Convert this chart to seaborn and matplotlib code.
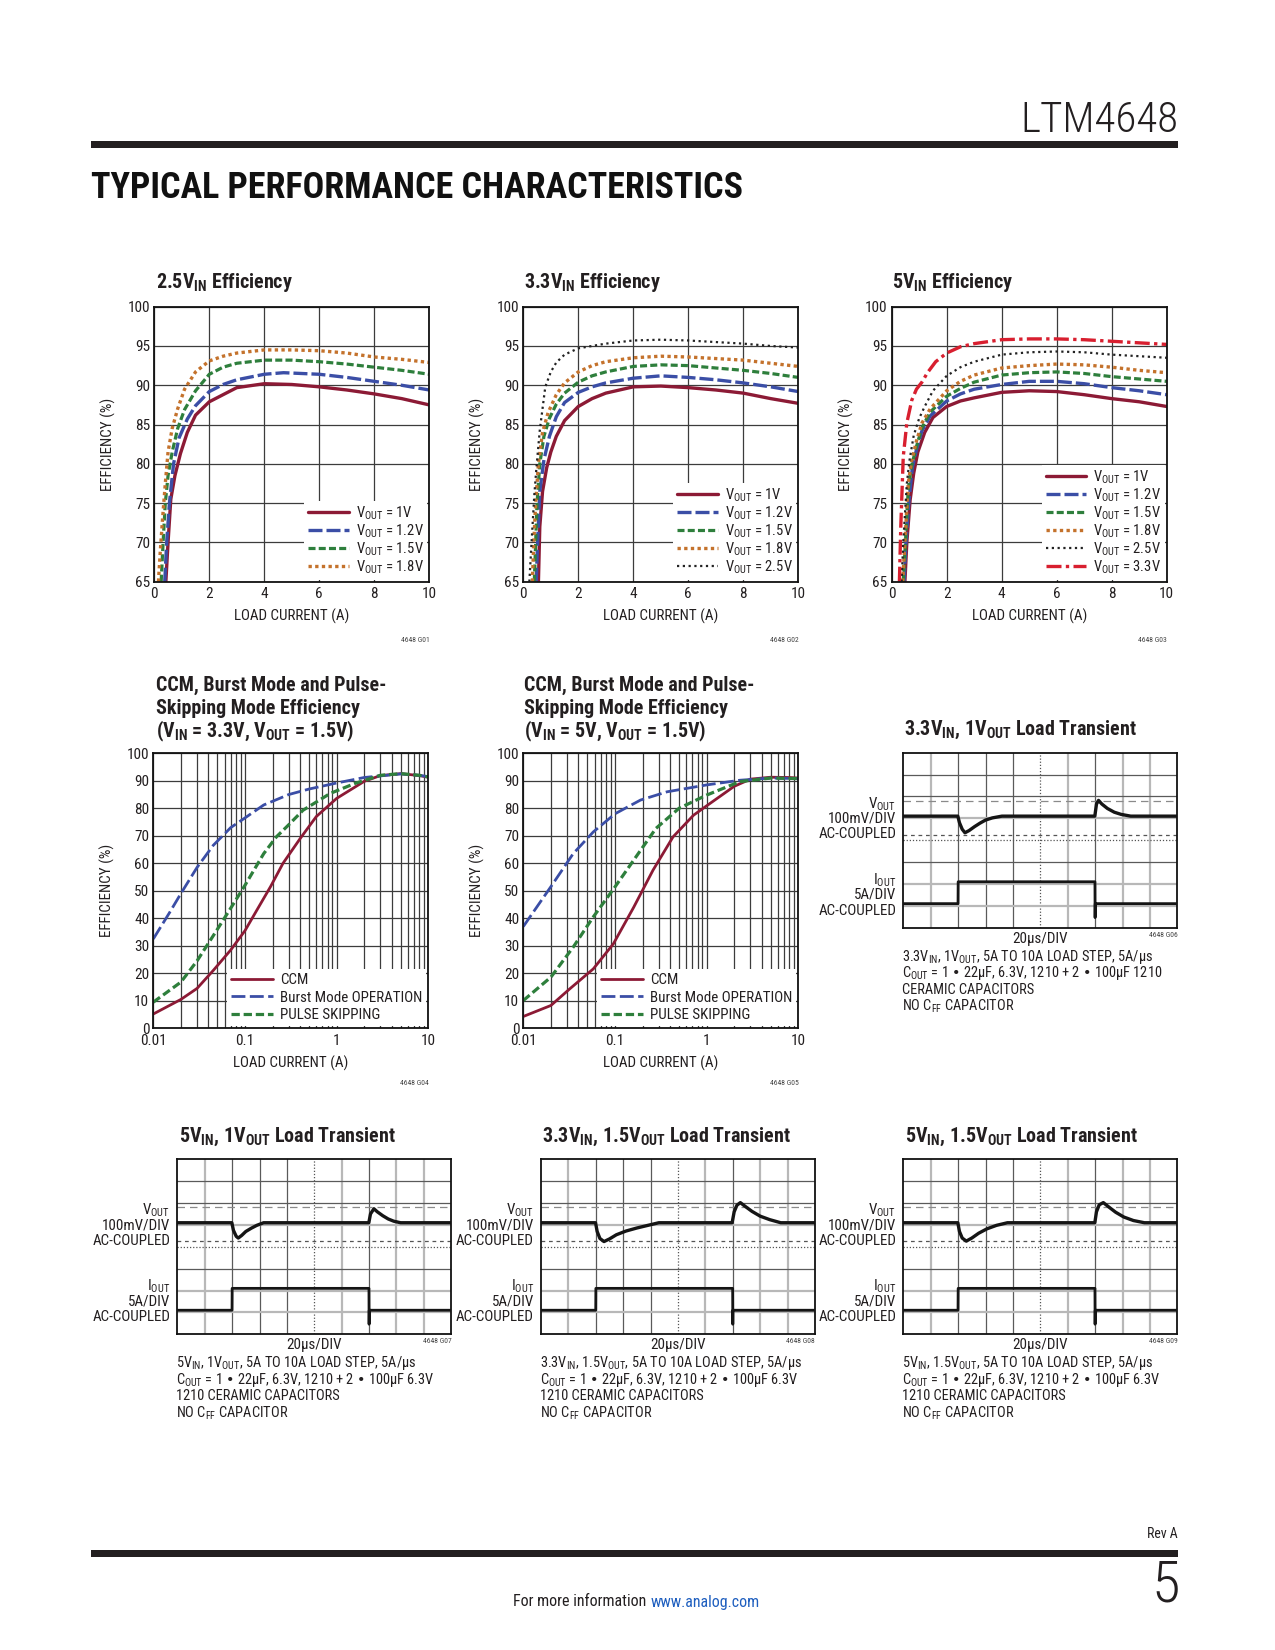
import matplotlib
matplotlib.use("Agg")
import matplotlib.pyplot as plt
import seaborn as sns
from matplotlib import font_manager
from matplotlib.ticker import LogLocator, NullFormatter

# ---------------- data: efficiency vs load current ----------------
# 2.5VIN
e1_i_10 = [0.42, 0.5, 0.6, 0.75, 0.95, 1.2, 1.5, 2.0, 2.5, 3.0, 4.0, 5.0, 6.0, 7.0, 8.0, 9.0, 10.0]
e1_e_10 = [65, 70, 75.5, 78.5, 81.3, 84, 86.2, 87.9, 88.8, 89.7, 90.2, 90.1, 89.8, 89.4, 88.9, 88.3, 87.5]
e1_i_12 = [0.38, 0.45, 0.55, 0.7, 0.9, 1.2, 1.5, 2.0, 2.5, 3.0, 4.0, 4.7, 6.0, 7.0, 8.0, 9.0, 10.0]
e1_e_12 = [65, 70, 75, 80, 83.3, 85.7, 87.4, 89.2, 90.1, 90.7, 91.4, 91.6, 91.4, 91.0, 90.5, 90.0, 89.4]
e1_i_15 = [0.25, 0.32, 0.4, 0.5, 0.65, 0.85, 1.1, 1.5, 2.0, 2.5, 3.0, 4.0, 5.0, 6.0, 7.0, 8.0, 9.0, 10.0]
e1_e_15 = [65, 70, 75, 78.5, 81.5, 84.5, 86.9, 89.3, 91.4, 92.3, 92.8, 93.2, 93.2, 93.0, 92.7, 92.3, 91.9, 91.4]
e1_i_18 = [0.15, 0.22, 0.3, 0.4, 0.5, 0.65, 0.85, 1.1, 1.5, 2.0, 2.5, 3.0, 4.0, 5.0, 6.0, 7.0, 8.0, 9.0, 10.0]
e1_e_18 = [65, 69, 73, 77.5, 81.5, 84.5, 87, 89.5, 91.7, 93.1, 93.7, 94.1, 94.5, 94.5, 94.4, 94.1, 93.6, 93.3, 92.9]

# 3.3VIN
e2_i_10 = [0.55, 0.6, 0.7, 0.85, 1.0, 1.2, 1.5, 2.0, 2.5, 3.0, 4.0, 5.0, 6.0, 7.0, 8.0, 9.0, 10.0]
e2_e_10 = [65, 72, 76.5, 79.5, 81.5, 83.5, 85.5, 87.3, 88.3, 89.0, 89.8, 89.9, 89.7, 89.4, 89.0, 88.3, 87.7]
e2_i_12 = [0.47, 0.52, 0.6, 0.75, 0.95, 1.2, 1.5, 2.0, 2.5, 3.0, 4.0, 5.0, 6.0, 7.0, 8.0, 9.0, 10.0]
e2_e_12 = [65, 70, 76.5, 80.5, 83.5, 86, 87.8, 89.1, 89.8, 90.3, 90.9, 91.2, 91.0, 90.7, 90.3, 89.8, 89.2]
e2_i_15 = [0.4, 0.45, 0.5, 0.6, 0.75, 0.95, 1.2, 1.5, 2.0, 2.5, 3.0, 4.0, 5.0, 6.0, 7.0, 8.0, 9.0, 10.0]
e2_e_15 = [65, 70, 75, 80, 83.5, 85.8, 87.6, 89, 90.4, 91.2, 91.7, 92.4, 92.6, 92.5, 92.2, 91.9, 91.5, 91.0]
e2_i_18 = [0.33, 0.38, 0.45, 0.55, 0.7, 0.9, 1.2, 1.5, 2.0, 2.5, 3.0, 4.0, 5.0, 6.0, 7.0, 8.0, 9.0, 10.0]
e2_e_18 = [65, 70, 75, 80, 84, 86.5, 88.8, 90.3, 91.7, 92.5, 93.0, 93.5, 93.7, 93.6, 93.4, 93.2, 92.8, 92.4]
e2_i_25 = [0.22, 0.3, 0.4, 0.48, 0.6, 0.8, 1.0, 1.2, 1.5, 2.0, 2.5, 3.0, 4.0, 5.0, 6.0, 7.0, 8.0, 9.0, 10.0]
e2_e_25 = [65, 70, 76, 79.6, 84.3, 89.8, 91.7, 92.9, 93.9, 94.7, 95.0, 95.3, 95.7, 95.8, 95.7, 95.5, 95.3, 95.0, 94.8]

# 5VIN
e3_i_10 = [0.48, 0.55, 0.67, 0.8, 0.95, 1.2, 1.5, 2.0, 2.5, 3.0, 4.0, 5.0, 6.0, 7.0, 8.0, 9.0, 10.0]
e3_e_10 = [65, 70, 75.4, 78.8, 81.5, 84, 85.9, 87.3, 88.0, 88.4, 89.1, 89.3, 89.2, 88.8, 88.3, 87.9, 87.3]
e3_i_12 = [0.45, 0.52, 0.63, 0.75, 0.9, 1.1, 1.4, 2.0, 2.5, 3.0, 4.0, 5.0, 6.0, 7.0, 8.0, 9.0, 10.0]
e3_e_12 = [65, 70, 75.4, 79.5, 81.8, 84.2, 86.1, 88.0, 88.9, 89.5, 90.1, 90.5, 90.5, 90.2, 89.7, 89.3, 88.8]
e3_i_15 = [0.42, 0.5, 0.6, 0.72, 0.9, 1.1, 1.4, 2.0, 2.5, 3.0, 4.0, 5.0, 6.0, 7.0, 8.0, 9.0, 10.0]
e3_e_15 = [65, 70, 76.7, 79.7, 82.2, 84.6, 86.6, 88.6, 89.6, 90.4, 91.3, 91.6, 91.7, 91.5, 91.1, 90.8, 90.5]
e3_i_18 = [0.4, 0.48, 0.6, 0.72, 0.9, 1.1, 1.4, 2.0, 2.5, 3.0, 4.0, 5.0, 6.0, 7.0, 8.0, 9.0, 10.0]
e3_e_18 = [65, 70, 77.5, 80.3, 82.9, 85.2, 87.0, 89.3, 90.5, 91.3, 92.2, 92.5, 92.7, 92.6, 92.3, 91.9, 91.6]
e3_i_25 = [0.36, 0.42, 0.55, 0.65, 0.8, 1.0, 1.2, 1.5, 2.0, 2.5, 3.0, 4.0, 5.0, 6.0, 7.0, 8.0, 9.0, 10.0]
e3_e_25 = [65, 70, 77.5, 80.5, 83.6, 85.8, 87.3, 89.3, 91.2, 92.3, 93.0, 93.9, 94.2, 94.3, 94.2, 93.9, 93.7, 93.5]
e3_i_33 = [0.28, 0.33, 0.42, 0.55, 0.73, 0.9, 1.1, 1.3, 1.6, 2.0, 2.5, 3.0, 4.0, 5.0, 6.0, 7.0, 8.0, 9.0, 10.0]
e3_e_33 = [65, 72, 80.9, 85.2, 88.1, 89.5, 90.4, 91.6, 93.0, 94.1, 94.9, 95.3, 95.8, 95.9, 95.9, 95.8, 95.6, 95.4, 95.2]

# CCM / Burst / Pulse skipping, VIN = 3.3V
m1_i_ccm = [0.01, 0.02, 0.03, 0.045, 0.07, 0.1, 0.135, 0.19, 0.26, 0.4, 0.6, 1.0, 2.0, 3.0, 5.0, 8.0, 10.0]
m1_e_ccm = [5.2, 10.5, 14.5, 21, 28.5, 35.5, 43, 51.5, 60, 69, 77, 83.6, 89.8, 91.9, 92.6, 91.9, 91.3]
m1_i_bst = [0.01, 0.015, 0.02, 0.03, 0.045, 0.07, 0.1, 0.16, 0.3, 0.5, 1.0, 2.0, 5.0, 8.0, 10.0]
m1_e_bst = [32.5, 42, 49, 58.5, 66.5, 73, 76.5, 81.2, 85, 87, 89.2, 91.2, 92.5, 92, 91.5]
m1_i_psk = [0.01, 0.02, 0.03, 0.05, 0.075, 0.1, 0.16, 0.22, 0.3, 0.43, 0.85, 1.6, 3.0, 5.0, 8.0, 10.0]
m1_e_psk = [9.5, 16.8, 24.5, 36, 45.3, 52, 63.5, 69.6, 74, 79.3, 85.4, 89.1, 92, 92.6, 92, 91.4]

# CCM / Burst / Pulse skipping, VIN = 5V
m2_i_ccm = [0.01, 0.02, 0.032, 0.058, 0.096, 0.16, 0.26, 0.43, 0.72, 1.0, 2.0, 3.0, 5.0, 8.0, 10.0]
m2_e_ccm = [4.3, 8.3, 14.3, 21.6, 30.7, 44, 57.5, 69.6, 77.5, 80.9, 88, 90.6, 91.3, 91.2, 91]
m2_i_bst = [0.01, 0.02, 0.035, 0.058, 0.1, 0.19, 0.37, 1.0, 2.3, 5.0, 10.0]
m2_e_bst = [37, 51.5, 63.5, 71.4, 78, 83, 86, 88.5, 90.2, 91, 90.8]
m2_i_psk = [0.01, 0.02, 0.035, 0.058, 0.1, 0.17, 0.28, 0.5, 1.0, 2.3, 5.0, 10.0]
m2_e_psk = [10.1, 18.6, 29.5, 40.5, 51.4, 62.4, 72.7, 80, 84.8, 89.7, 91, 90.8]

# ---------------- data: load transients (time us, VOUT mV ac, IOUT A) ----------------
iout_t = [0, 39.95, 40.05, 139.9, 140.0, 140.1, 200]
iout_a = [5, 5, 10, 10, 1.8, 5, 5]

tr6_t = [0, 39.8, 41, 43, 45, 48, 52, 56, 60, 65, 72, 139.8, 141, 142.5, 145, 149, 154, 159, 166, 200]
tr6_v = [0, 0, -30, -60, -76, -66, -48, -32, -18, -8, 0, 0, 55, 72, 55, 35, 18, 8, 0, 0]
tr7_t = [0, 39.8, 41, 43, 44.5, 47, 50, 54, 58, 63, 139.8, 141, 143.5, 146, 150, 154, 158, 163, 200]
tr7_v = [0, 0, -35, -62, -70, -58, -40, -25, -12, 0, 0, 40, 64, 50, 32, 17, 7, 0, 0]
tr8_t = [0, 39.8, 41, 43, 46, 50, 55, 62, 70, 78, 86, 139.5, 141, 143, 145.5, 149, 154, 160, 167, 175, 200]
tr8_v = [0, 0, -40, -72, -86, -74, -55, -38, -24, -12, 0, 0, 50, 80, 92, 75, 52, 30, 14, 0, 0]
tr9_t = [0, 39.8, 41, 43, 46, 50, 55, 61, 68, 76, 139.8, 141, 143, 146, 150, 155, 161, 168, 176, 200]
tr9_v = [0, 0, -40, -70, -84, -70, -48, -28, -12, 0, 0, 50, 82, 92, 72, 48, 26, 10, 0, 0]

# ---------------- style ----------------
sns.set_theme(style="white")
names = {f.name for f in font_manager.fontManager.ttflist}
NARROW = next(n for n in ["Liberation Sans Narrow", "Roboto Condensed", "Roboto", "DejaVu Sans"] if n in names)
plt.rcParams["font.family"] = [NARROW, "DejaVu Sans"]
plt.rcParams["axes.linewidth"] = 1.3
plt.rcParams["axes.edgecolor"] = "#111111"

C_RED = "#8c1a35"
C_BLUE = "#3b4ea6"
C_GRN = "#2e7f3c"
C_ORG = "#c4722c"
C_BLK = "#222222"
C_RED2 = "#d81f2f"
TXT = "#231f20"

ST_10 = (C_RED, "-", 2.4)
ST_12 = (C_BLUE, (0, (4.2, 1.2)), 2.4)
ST_15 = (C_GRN, (0, (2.2, 1.0)), 2.3)
ST_18 = (C_ORG, (0, (1.0, 1.0)), 2.4)
ST_25 = (C_BLK, (0, (1.0, 1.6)), 1.6)
ST_33 = (C_RED2, (0, (4.5, 1.3, 1.0, 1.3)), 2.4)

W, H = 1275, 1650
fig = plt.figure(figsize=(W / 100, H / 100), dpi=100)


def px_axes(left, top, width, height):
    return fig.add_axes([left / W, 1 - (top + height) / H, width / W, height / H])


def ftext(x, y, s, **kw):
    kw.setdefault("color", TXT)
    return fig.text(x / W, 1 - y / H, s, **kw)


def vout(v):
    return "V$_{\\mathregular{OUT}}$ = " + v


def eff_chart(left, top, series, log=False, code=""):
    ax = px_axes(left, top, 275, 275)
    handles, labels = [], []
    for label, xs, ys, st in series:
        color, ls, lw = st
        sns.lineplot(x=xs, y=ys, ax=ax, color=color, linestyle=ls, linewidth=lw,
                     sort=False, legend=False)
        handles.append(ax.lines[-1])
        labels.append(label)
    if log:
        ax.set_xscale("log")
        ax.set_xlim(0.01, 10)
        ax.set_xticks([0.01, 0.1, 1, 10])
        ax.set_xticklabels(["0.01", "0.1", "1", "10"])
        ax.xaxis.set_minor_locator(LogLocator(subs=range(2, 10)))
        ax.xaxis.set_minor_formatter(NullFormatter())
        ax.set_ylim(0, 100)
        ax.set_yticks(range(0, 101, 10))
    else:
        ax.set_xlim(0, 10)
        ax.set_xticks(range(0, 11, 2))
        ax.set_ylim(65, 100)
        ax.set_yticks(range(65, 101, 5))
    ax.grid(True, which="both", color="#3c3c3c", linewidth=0.9)
    ax.set_axisbelow(True)
    ax.tick_params(which="both", length=0, labelsize=11, colors=TXT)
    ax.tick_params(axis="x", pad=4)
    ax.tick_params(axis="y", pad=3)
    ax.set_xlabel("LOAD CURRENT (A)", fontsize=10.8, color=TXT)
    ax.set_ylabel("EFFICIENCY (%)", fontsize=10.8, color=TXT)
    ax.xaxis.set_label_coords(0.5, -27 / 275)
    ax.yaxis.set_label_coords(-38 / 275, 0.5)
    leg = ax.legend(handles, labels, loc="lower right", fontsize=(10.8 if log else 10.5),
                    handlelength=2.8, labelspacing=(0.25 if log else 0.02), borderpad=0.25,
                    borderaxespad=0.15, handletextpad=0.45, frameon=True, fancybox=False,
                    framealpha=1)
    leg.get_frame().set_edgecolor("white")
    leg.get_frame().set_linewidth(0)
    for t in leg.get_texts():
        t.set_color(TXT)
    ftext(left + 275, top + 275 + (58 if not log else 55), code, fontsize=5.5,
          ha="right", va="center", color="#444444")
    return ax


def scope(left, top, tv, vv, notes, code):
    ax = px_axes(left, top, 274, 175)
    ax.set_xlim(0, 200)
    ax.set_ylim(-510, 290)
    ax.set_xticks([])
    ax.set_yticks([])
    gray_x = [1, 6, 8, 9]
    for k in range(1, 10):
        if k == 5:
            ax.axvline(20 * k, color="#555555", lw=0.9, ls=(0, (1, 1.5)))
        elif k in gray_x:
            ax.axvline(20 * k, color="#b8b8b8", lw=1.6)
        else:
            ax.axvline(20 * k, color="#5a5a5a", lw=0.9)
    gray_y = [1, 2, 5]
    for k in range(1, 8):
        y = -510 + 100 * k
        if k == 4:
            ax.axhline(y, color="#555555", lw=0.9, ls=(0, (1, 1.5)))
        elif k in gray_y:
            ax.axhline(y, color="#b8b8b8", lw=1.6)
        else:
            ax.axhline(y, color="#5a5a5a", lw=0.9)
    ax.axhline(70, color="#8a8a8a", lw=0.9, ls=(0, (6, 4)))
    ax.axhline(-85, color="#555555", lw=0.9, ls=(0, (3, 3)))
    sns.lineplot(x=tv, y=vv, ax=ax, color="#151515", linewidth=2.4, sort=False, legend=False)
    axi = ax.twinx()
    axi.set_ylim(-0.5, 39.5)
    axi.set_xlim(0, 200)
    sns.lineplot(x=iout_t, y=iout_a, ax=axi, color="#151515", linewidth=2.0, sort=False, legend=False)
    axi.set_axis_off()
    for s in ax.spines.values():
        s.set_linewidth(1.3)
        s.set_color("#111111")

    lx = left - 7
    for dy, s in [(51, "V$_{\\mathregular{OUT}}$"), (66, "100mV/DIV"), (81.5, "AC-COUPLED"),
                  (127, "I$_{\\mathregular{OUT}}$"), (142, "5A/DIV"), (158, "AC-COUPLED")]:
        ftext(lx, top + dy, s, fontsize=10.8, ha="right", va="center")
    ftext(left + 137, top + 175 + 11, "20µs/DIV", fontsize=10.8, ha="center", va="center")
    ftext(left + 274, top + 175 + 7, code, fontsize=5.5, ha="right", va="center", color="#444444")
    for i, s in enumerate(notes):
        ftext(left - 1, top + 175 + 29 + 16.5 * i, s, fontsize=10.4, ha="left", va="center")
    return ax


def title(x, y, s):
    ftext(x, y, s, fontsize=14.4, fontweight="bold", ha="left", va="center")


# ---------------- row 1 ----------------
eff_chart(154.3, 306.7, [(vout("1V"), e1_i_10, e1_e_10, ST_10),
                         (vout("1.2V"), e1_i_12, e1_e_12, ST_12),
                         (vout("1.5V"), e1_i_15, e1_e_15, ST_15),
                         (vout("1.8V"), e1_i_18, e1_e_18, ST_18)], code="4648 G01")
title(155.5, 283, "2.5V$_{\\mathregular{IN}}$ Efficiency")

eff_chart(523.3, 306.7, [(vout("1V"), e2_i_10, e2_e_10, ST_10),
                         (vout("1.2V"), e2_i_12, e2_e_12, ST_12),
                         (vout("1.5V"), e2_i_15, e2_e_15, ST_15),
                         (vout("1.8V"), e2_i_18, e2_e_18, ST_18),
                         (vout("2.5V"), e2_i_25, e2_e_25, ST_25)], code="4648 G02")
title(524.5, 283, "3.3V$_{\\mathregular{IN}}$ Efficiency")

eff_chart(891.7, 306.7, [(vout("1V"), e3_i_10, e3_e_10, ST_10),
                         (vout("1.2V"), e3_i_12, e3_e_12, ST_12),
                         (vout("1.5V"), e3_i_15, e3_e_15, ST_15),
                         (vout("1.8V"), e3_i_18, e3_e_18, ST_18),
                         (vout("2.5V"), e3_i_25, e3_e_25, ST_25),
                         (vout("3.3V"), e3_i_33, e3_e_33, ST_33)], code="4648 G03")
title(892.5, 283, "5V$_{\\mathregular{IN}}$ Efficiency")

# ---------------- row 2 ----------------
ST_CCM = (C_RED, "-", 2.0)
ST_BST = (C_BLUE, (0, (5, 1.6)), 2.0)
ST_PSK = (C_GRN, (0, (2.6, 1.2)), 2.3)
eff_chart(153.3, 753.3, [("CCM", m1_i_ccm, m1_e_ccm, ST_CCM),
                         ("Burst Mode OPERATION", m1_i_bst, m1_e_bst, ST_BST),
                         ("PULSE SKIPPING", m1_i_psk, m1_e_psk, ST_PSK)], log=True, code="4648 G04")
title(155.5, 685, "CCM, Burst Mode and Pulse-")
title(155.5, 708.3, "Skipping Mode Efficiency")
title(155.5, 731.7, "(V$_{\\mathregular{IN}}$ = 3.3V, V$_{\\mathregular{OUT}}$ = 1.5V)")

eff_chart(523.3, 753.3, [("CCM", m2_i_ccm, m2_e_ccm, ST_CCM),
                         ("Burst Mode OPERATION", m2_i_bst, m2_e_bst, ST_BST),
                         ("PULSE SKIPPING", m2_i_psk, m2_e_psk, ST_PSK)], log=True, code="4648 G05")
title(524.5, 685, "CCM, Burst Mode and Pulse-")
title(524.5, 708.3, "Skipping Mode Efficiency")
title(524.5, 731.7, "(V$_{\\mathregular{IN}}$ = 5V, V$_{\\mathregular{OUT}}$ = 1.5V)")

COUT = "C$_{\\mathregular{OUT}}$ = 1 • 22µF, 6.3V, 1210 + 2 • 100µF"
NOCFF = "NO C$_{\\mathregular{FF}}$ CAPACITOR"
scope(903.3, 752.7, tr6_t, tr6_v,
      ["3.3V$_{\\mathregular{IN}}$, 1V$_{\\mathregular{OUT}}$, 5A TO 10A LOAD STEP, 5A/µs",
       COUT + " 1210", "CERAMIC CAPACITORS", NOCFF], "4648 G06")
title(904, 730, "3.3V$_{\\mathregular{IN}}$, 1V$_{\\mathregular{OUT}}$ Load Transient")

# ---------------- row 3 ----------------
scope(177.3, 1159.3, tr7_t, tr7_v,
      ["5V$_{\\mathregular{IN}}$, 1V$_{\\mathregular{OUT}}$, 5A TO 10A LOAD STEP, 5A/µs",
       COUT + " 6.3V", "1210 CERAMIC CAPACITORS", NOCFF], "4648 G07")
title(179, 1136.7, "5V$_{\\mathregular{IN}}$, 1V$_{\\mathregular{OUT}}$ Load Transient")

scope(541, 1159.3, tr8_t, tr8_v,
      ["3.3V$_{\\mathregular{IN}}$, 1.5V$_{\\mathregular{OUT}}$, 5A TO 10A LOAD STEP, 5A/µs",
       COUT + " 6.3V", "1210 CERAMIC CAPACITORS", NOCFF], "4648 G08")
title(542.5, 1136.7, "3.3V$_{\\mathregular{IN}}$, 1.5V$_{\\mathregular{OUT}}$ Load Transient")

scope(903.3, 1159.3, tr9_t, tr9_v,
      ["5V$_{\\mathregular{IN}}$, 1.5V$_{\\mathregular{OUT}}$, 5A TO 10A LOAD STEP, 5A/µs",
       COUT + " 6.3V", "1210 CERAMIC CAPACITORS", NOCFF], "4648 G09")
title(904.5, 1136.7, "5V$_{\\mathregular{IN}}$, 1.5V$_{\\mathregular{OUT}}$ Load Transient")

# ---------------- page furniture ----------------
page = fig.add_axes([0, 0, 1, 1], zorder=-1)
page.set_xlim(0, W)
page.set_ylim(H, 0)
page.set_axis_off()
page.fill_between([91, 1178], 141, 148, color=TXT, lw=0)
page.fill_between([91, 1178], 1550, 1557, color=TXT, lw=0)

ftext(1178, 120, "LTM4648", fontsize=31, fontweight="light", ha="right", va="center")
head = ftext(91, 188, "TYPICAL PERFORMANCE CHARACTERISTICS", fontsize=26, fontweight="heavy",
             ha="left", va="center", color="#111111")
r = fig.canvas.get_renderer()
wpx = head.get_window_extent(r).width
head.set_fontsize(26 * 652 / wpx)

ftext(1178, 1534, "Rev A", fontsize=10, ha="right", va="center")
ftext(1180, 1586, "5", fontsize=42, fontweight="light", ha="right", va="center")
ftext(650, 1602, "For more information ", fontsize=11.5, ha="right", va="center")
ftext(651, 1602, "www.analog.com", fontsize=11.5, ha="left", va="center", color="#1f5fbf")

fig.savefig("out.png", dpi=100, facecolor="white")
